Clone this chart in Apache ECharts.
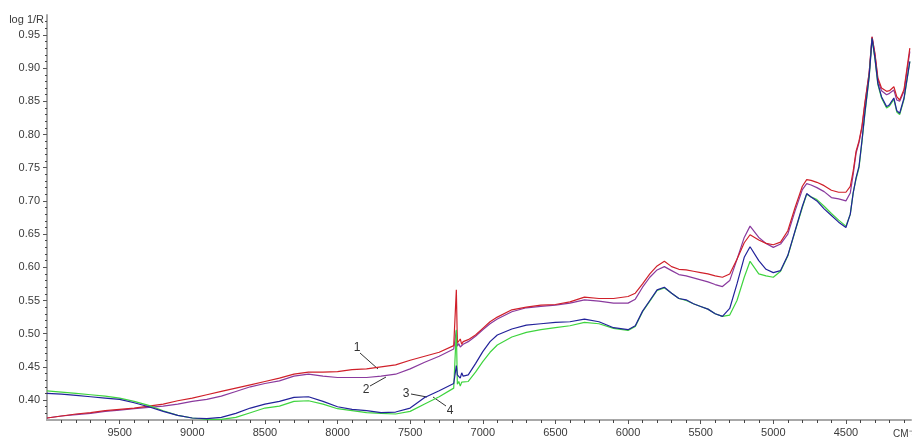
<!DOCTYPE html>
<html>
<head>
<meta charset="utf-8">
<script src="https://cdn.jsdelivr.net/npm/echarts@6/dist/echarts.min.js"></script>
<style>
html,body{margin:0;padding:0;background:#fff;}
#main{width:912px;height:439px;}
</style>
</head>
<body>
<div id="main"></div>
<script>
const wn = [10000,9900,9800,9700,9600,9500,9400,9300,9200,9100,9000,8900,8800,8700,8600,8500,8400,8300,8200,8100,8000,7900,7800,7700,7600,7500,7400,7300,7200,7190,7182,7175,7165,7155,7145,7135,7100,7050,7000,6950,6900,6800,6700,6600,6500,6400,6300,6200,6100,6000,5950,5900,5850,5800,5750,5700,5650,5600,5550,5500,5450,5400,5350,5300,5250,5200,5160,5100,5050,5000,4950,4900,4850,4800,4770,4740,4700,4650,4600,4550,4500,4470,4450,4430,4410,4390,4370,4340,4320,4300,4280,4255,4220,4200,4170,4150,4130,4100,4060];

const curve1 = [0.373,0.376,0.379,0.381,0.384,0.386,0.388,0.391,0.394,0.399,0.403,0.408,0.413,0.418,0.423,0.428,0.433,0.439,0.442,0.442,0.443,0.446,0.447,0.450,0.453,0.460,0.466,0.472,0.482,0.484,0.566,0.486,0.488,0.492,0.484,0.488,0.491,0.498,0.508,0.518,0.525,0.536,0.540,0.543,0.544,0.548,0.555,0.553,0.553,0.556,0.561,0.575,0.590,0.602,0.609,0.601,0.597,0.596,0.594,0.592,0.590,0.587,0.585,0.590,0.612,0.637,0.649,0.641,0.636,0.634,0.638,0.655,0.690,0.722,0.732,0.731,0.728,0.723,0.716,0.713,0.713,0.722,0.745,0.775,0.790,0.812,0.847,0.893,0.947,0.922,0.885,0.870,0.865,0.866,0.872,0.857,0.852,0.868,0.930];

const curve2 = [0.373,0.376,0.378,0.380,0.383,0.385,0.387,0.389,0.391,0.394,0.398,0.401,0.406,0.413,0.420,0.425,0.429,0.436,0.439,0.436,0.434,0.434,0.434,0.436,0.439,0.447,0.457,0.466,0.477,0.479,0.505,0.481,0.485,0.480,0.479,0.484,0.488,0.496,0.506,0.515,0.522,0.533,0.539,0.541,0.543,0.546,0.551,0.549,0.546,0.546,0.552,0.570,0.585,0.596,0.601,0.595,0.589,0.587,0.584,0.581,0.578,0.574,0.571,0.580,0.612,0.645,0.662,0.645,0.636,0.630,0.635,0.650,0.685,0.717,0.726,0.724,0.720,0.714,0.705,0.703,0.700,0.712,0.740,0.772,0.788,0.810,0.845,0.893,0.947,0.920,0.882,0.866,0.860,0.862,0.867,0.852,0.850,0.865,0.925];

const curve3 = [0.410,0.409,0.407,0.405,0.403,0.401,0.396,0.390,0.383,0.377,0.373,0.372,0.374,0.380,0.388,0.394,0.398,0.404,0.405,0.398,0.390,0.386,0.384,0.381,0.382,0.388,0.404,0.414,0.425,0.428,0.452,0.438,0.441,0.433,0.441,0.436,0.438,0.455,0.473,0.488,0.498,0.507,0.513,0.515,0.517,0.518,0.522,0.518,0.509,0.506,0.512,0.534,0.550,0.566,0.570,0.561,0.553,0.551,0.545,0.541,0.537,0.530,0.526,0.538,0.575,0.615,0.631,0.610,0.597,0.592,0.595,0.618,0.655,0.692,0.711,0.706,0.700,0.688,0.678,0.668,0.660,0.680,0.712,0.735,0.752,0.790,0.832,0.888,0.945,0.915,0.877,0.857,0.842,0.845,0.855,0.836,0.832,0.855,0.910];

const curve4 = [0.414,0.412,0.410,0.408,0.406,0.403,0.398,0.392,0.384,0.377,0.373,0.371,0.371,0.374,0.381,0.388,0.391,0.398,0.399,0.394,0.387,0.384,0.381,0.380,0.379,0.383,0.394,0.405,0.418,0.421,0.506,0.424,0.428,0.421,0.427,0.424,0.428,0.442,0.458,0.472,0.483,0.495,0.502,0.506,0.509,0.512,0.517,0.515,0.508,0.505,0.511,0.533,0.549,0.565,0.569,0.561,0.553,0.550,0.545,0.541,0.537,0.530,0.526,0.528,0.550,0.585,0.609,0.590,0.587,0.585,0.594,0.617,0.654,0.690,0.710,0.706,0.702,0.692,0.681,0.671,0.662,0.680,0.712,0.733,0.750,0.788,0.830,0.886,0.944,0.913,0.875,0.855,0.840,0.843,0.853,0.834,0.830,0.853,0.910];

const xTickLabels = [9500,9000,8500,8000,7500,7000,6500,6000,5500,5000,4500];
const xMinorTicks = [9900,9800,9700,9600,9400,9300,9200,9100,8900,8800,8700,8600,8400,8300,8200,8100,7900,7800,7700,7600,7400,7300,7200,7100,6900,6800,6700,6600,6400,6300,6200,6100,5900,5800,5700,5600,5400,5300,5200,5100,4900,4800,4700,4600,4400,4300,4200,4100];
const yTickLabels = [0.40,0.45,0.50,0.55,0.60,0.65,0.70,0.75,0.80,0.85,0.90,0.95];
const yMinorTicks = [0.38,0.39,0.41,0.42,0.43,0.44,0.46,0.47,0.48,0.49,0.51,0.52,0.53,0.54,0.56,0.57,0.58,0.59,0.61,0.62,0.63,0.64,0.66,0.67,0.68,0.69,0.71,0.72,0.73,0.74,0.76,0.77,0.78,0.79,0.81,0.82,0.83,0.84,0.86,0.87,0.88,0.89,0.91,0.92,0.93,0.94,0.96,0.97];

const seriesNames = ['1','2','3','4'];
const seriesColors = ['#d0202a','#8a3a9e','#22229a','#3fd43f'];
const seriesData = [curve1, curve2, curve3, curve4];

const X_MIN = 4052, X_MAX = 10000, Y_MIN = 0.370, Y_MAX = 0.980;
const FONT = '"Liberation Sans", Arial, sans-serif';
const LABEL_COLOR = '#3a3a3a';

const chart = echarts.init(document.getElementById('main'), null, {renderer:'canvas'});

const drawOrder = [1,0,3,2];
const series = drawOrder.map(i => ({
  name: seriesNames[i],
  type: 'line',
  xAxisIndex: 0, yAxisIndex: 0,
  data: wn.map((w, k) => [w, seriesData[i][k]]),
  showSymbol: false,
  symbol: 'none',
  smooth: false,
  lineStyle: { color: seriesColors[i], width: 1.2 },
  itemStyle: { color: seriesColors[i] },
  animation: false,
  z: 3
}));

chart.setOption({
  animation: false,
  backgroundColor: '#fff',
  grid: { left: 47, right: 1, top: 15, bottom: 19, containLabel: false },
  xAxis: [
    {
      type: 'value', min: X_MIN, max: X_MAX, inverse: true, position: 'bottom',
      axisLine: { show: true, lineStyle: { color: '#a8a8a8', width: 2 } },
      axisTick: { show: true, customValues: xTickLabels, length: 4, lineStyle: { color: '#555', width: 1 } },
      axisLabel: { show: true, customValues: xTickLabels, margin: 7, color: LABEL_COLOR, fontSize: 11, fontFamily: FONT,
        formatter: v => String(Math.round(v)) },
      splitLine: { show: false }
    },
    {
      type: 'value', min: X_MIN, max: X_MAX, inverse: true, position: 'bottom', offset: 0,
      axisLine: { show: true, lineStyle: { color: 'rgba(0,0,0,0)', width: 1 } },
      axisTick: { show: true, customValues: xMinorTicks, length: 3, lineStyle: { color: '#444', width: 1 } },
      axisLabel: { show: true, customValues: xMinorTicks, formatter: () => '', fontSize: 1 },
      splitLine: { show: false }
    }
  ],
  yAxis: [
    {
      type: 'value', min: Y_MIN, max: Y_MAX, position: 'left',
      axisLine: { show: true, lineStyle: { color: '#a8a8a8', width: 2 } },
      axisTick: { show: true, customValues: yTickLabels, length: 4, lineStyle: { color: '#555', width: 1 } },
      axisLabel: { show: true, customValues: yTickLabels, margin: 7, color: LABEL_COLOR, fontSize: 11, fontFamily: FONT,
        formatter: v => Number(v).toFixed(2) },
      splitLine: { show: false }
    },
    {
      type: 'value', min: Y_MIN, max: Y_MAX, position: 'left', offset: 0,
      axisLine: { show: true, lineStyle: { color: 'rgba(0,0,0,0)', width: 1 } },
      axisTick: { show: true, customValues: yMinorTicks, length: 2, lineStyle: { color: '#444', width: 1 } },
      axisLabel: { show: true, customValues: yMinorTicks, formatter: () => '', fontSize: 1 },
      splitLine: { show: false }
    }
  ],
  series: series,
  graphic: [
    { type: 'text', x: 44, y: 20, style: { text: 'log 1/R', align: 'right', verticalAlign: 'middle', fill: LABEL_COLOR, font: '11px ' + FONT } },
    { type: 'text', x: 893, y: 434, style: { text: 'CM⁻¹', align: 'left', verticalAlign: 'middle', fill: LABEL_COLOR, font: '10px ' + FONT } },
    { type: 'text', x: 357, y: 348, style: { text: '1', align: 'center', verticalAlign: 'middle', fill: '#333', font: '12px ' + FONT } },
    { type: 'line', shape: { x1: 360, y1: 353, x2: 378, y2: 369 }, style: { stroke: '#333', lineWidth: 1 } },
    { type: 'text', x: 366, y: 390, style: { text: '2', align: 'center', verticalAlign: 'middle', fill: '#333', font: '12px ' + FONT } },
    { type: 'line', shape: { x1: 370, y1: 386, x2: 386, y2: 377 }, style: { stroke: '#333', lineWidth: 1 } },
    { type: 'text', x: 406, y: 394, style: { text: '3', align: 'center', verticalAlign: 'middle', fill: '#333', font: '12px ' + FONT } },
    { type: 'line', shape: { x1: 411, y1: 394, x2: 427, y2: 397 }, style: { stroke: '#333', lineWidth: 1 } },
    { type: 'text', x: 450, y: 411, style: { text: '4', align: 'center', verticalAlign: 'middle', fill: '#333', font: '12px ' + FONT } },
    { type: 'line', shape: { x1: 446, y1: 406, x2: 433, y2: 397 }, style: { stroke: '#333', lineWidth: 1 } }
  ]
});
</script>
</body>
</html>
